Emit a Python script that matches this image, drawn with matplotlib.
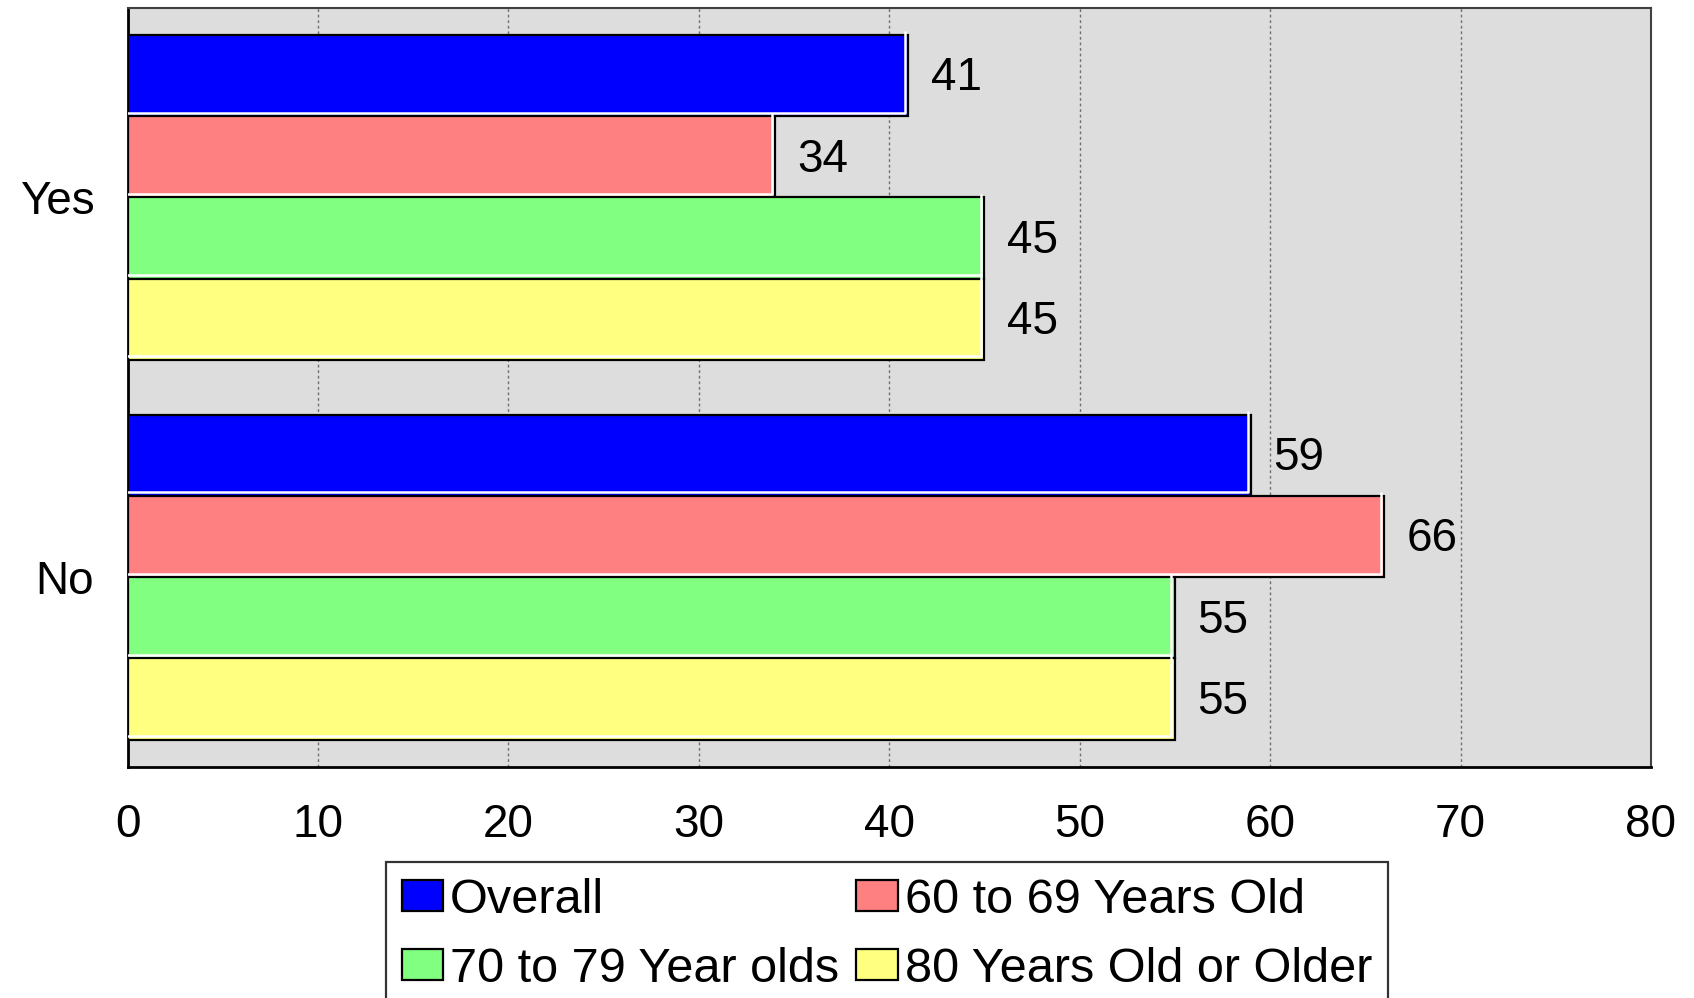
import matplotlib
matplotlib.use("Agg")
import matplotlib.pyplot as plt
import matplotlib.transforms as mtransforms
import numpy as np

plt.rcParams['font.family'] = ['Liberation Sans', 'DejaVu Sans']

# data
categories = ["Yes", "No"]
groups = ["Overall", "60 to 69 Years Old", "70 to 79 Year olds", "80 Years Old or Older"]
overall = [41, 59]
age_60_69 = [34, 66]
age_70_79 = [45, 55]
age_80_plus = [45, 55]
x_ticks = [0, 10, 20, 30, 40, 50, 60, 70, 80]

series = [overall, age_60_69, age_70_79, age_80_plus]
colors = ["#0000FF", "#FF8080", "#80FF80", "#FFFF80"]

fig = plt.figure(figsize=(16.94, 9.98), dpi=100)
ax = fig.add_axes([0.0753, 0.2315, 0.8993, 0.7609])
ax.set_facecolor("#DDDDDD")

# white highlight drawn just inside the right and bottom bar edges
shine = mtransforms.offset_copy(ax.transData, fig=fig, x=-3.5, y=3.5, units="dots")

bar_h = 0.214
y = np.arange(len(categories))
handles = []
for i, (vals, col, name) in enumerate(zip(series, colors, groups)):
    pos = y + (i - 1.5) * bar_h
    bars = ax.barh(pos, vals, height=bar_h, color=col, edgecolor="black",
                   linewidth=1.6, label=name, zorder=3)
    handles.append(bars)
    for b, v in zip(bars, vals):
        y_top = b.get_y()
        y_bot = b.get_y() + b.get_height()
        ax.plot([0, v, v], [y_bot, y_bot, y_top], color="white", lw=1.8,
                transform=shine, zorder=3.5, solid_capstyle="butt")
        ax.annotate(str(v), xy=(v, b.get_y() + b.get_height() / 2),
                    xytext=(16, -2), textcoords="offset points",
                    ha="left", va="center", fontsize=33, zorder=4)

ax.set_xlim(0, 80)
ax.set_ylim(1.5, -0.5)
ax.set_xticks(x_ticks)
ax.set_xticklabels([str(t) for t in x_ticks], fontsize=33)
ax.set_yticks(y)
ax.set_yticklabels(categories, fontsize=33)
ax.tick_params(axis="x", length=0, pad=26)
ax.tick_params(axis="y", length=0, pad=24)

ax.xaxis.grid(True, linestyle=(0, (2, 2)), color="#707070", linewidth=1.0, zorder=1)
ax.set_axisbelow(True)

for side in ["left", "bottom"]:
    ax.spines[side].set_linewidth(2.0)
    ax.spines[side].set_color("black")
for side in ["top", "right"]:
    ax.spines[side].set_linewidth(1.5)
    ax.spines[side].set_color("#404040")

# legend reads row by row: Overall / 60-69 on top, 70-79 / 80+ below
order = [0, 2, 1, 3]
leg = fig.legend(handles=[handles[k] for k in order],
                 labels=[groups[k] for k in order], ncol=2,
                 loc="upper left", bbox_to_anchor=(0.2279, 0.1363),
                 fontsize=35, frameon=True, fancybox=False,
                 handlelength=0.85, handleheight=0.6, handletextpad=0.15,
                 columnspacing=0.35, labelspacing=0.5, borderpad=0.32,
                 borderaxespad=0.0)
leg.get_frame().set_edgecolor("black")
leg.get_frame().set_linewidth(1.6)

fig.savefig("out.png", dpi=100)
